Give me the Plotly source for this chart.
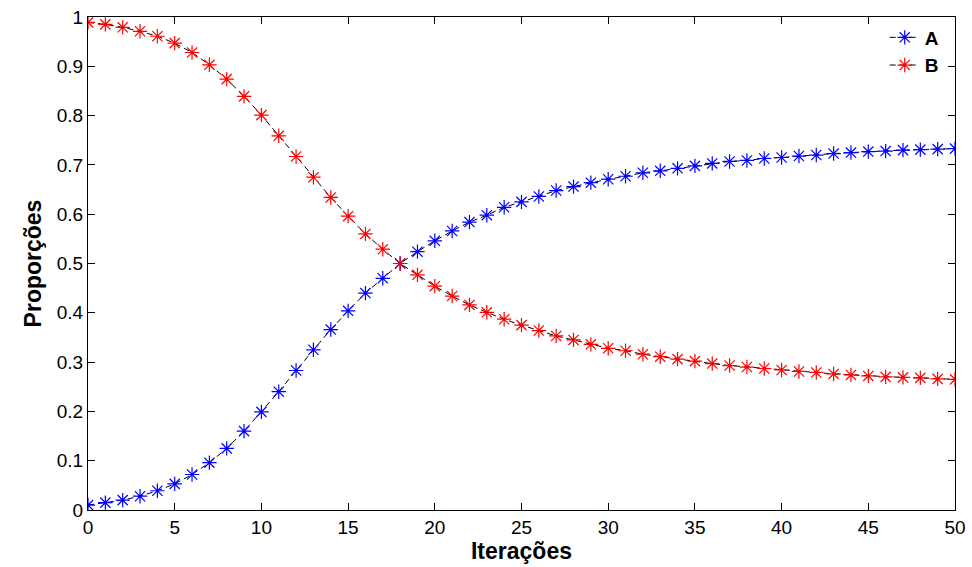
import plotly.graph_objects as go

# Iteration index and proportions of each group
iteracoes = list(range(0, 51))

prop_a = [0.010, 0.015, 0.020, 0.028, 0.039, 0.053, 0.072, 0.096, 0.125, 0.160,
          0.199, 0.240, 0.283, 0.325, 0.366, 0.404, 0.440, 0.470, 0.500, 0.524,
          0.546, 0.566, 0.584, 0.598, 0.614, 0.625, 0.636, 0.648, 0.656, 0.664,
          0.671, 0.677, 0.684, 0.688, 0.693, 0.698, 0.703, 0.707, 0.709, 0.713,
          0.715, 0.718, 0.720, 0.723, 0.725, 0.727, 0.728, 0.730, 0.731, 0.732,
          0.733]

prop_b = [0.989, 0.985, 0.979, 0.971, 0.961, 0.947, 0.928, 0.903, 0.874, 0.839,
          0.801, 0.759, 0.717, 0.675, 0.634, 0.596, 0.560, 0.529, 0.500, 0.477,
          0.454, 0.434, 0.416, 0.401, 0.387, 0.375, 0.364, 0.353, 0.345, 0.336,
          0.328, 0.323, 0.316, 0.311, 0.306, 0.302, 0.297, 0.293, 0.290, 0.287,
          0.284, 0.281, 0.279, 0.276, 0.274, 0.272, 0.270, 0.269, 0.268, 0.266,
          0.265]

series = [("A", prop_a, "rgb(0,0,255)"), ("B", prop_b, "rgb(255,0,0)")]

fig = go.Figure()
for name, vals, col in series:
    fig.add_trace(go.Scatter(
        x=iteracoes, y=vals, name="<b>" + name + "</b>", mode="lines+markers",
        line=dict(color="black", width=1, dash="6px,4px"),
        marker=dict(symbol="asterisk-open", size=12, color=col,
                    line=dict(color=col, width=1.2)),
    ))

font_family = "Liberation Sans, Arial, Helvetica, sans-serif"
axis_common = dict(
    showline=True, linecolor="black", linewidth=1.2, mirror="ticks",
    ticks="inside", ticklen=7, tickcolor="black", tickwidth=1,
    showgrid=False, zeroline=False, automargin=False,
    tickfont=dict(family=font_family, size=19, color="black"),
)

fig.update_layout(
    width=972, height=567,
    margin=dict(l=88, r=17, t=17, b=57),
    plot_bgcolor="white", paper_bgcolor="white",
    font=dict(family=font_family, color="black"),
    xaxis=dict(range=[0, 50], tickvals=list(range(0, 51, 5)),
               title=dict(text="<b>Iterações</b>", font=dict(size=23), standoff=4),
               **axis_common),
    yaxis=dict(range=[0, 1], tickvals=[i / 10 for i in range(11)],
               ticktext=["0", "0.1", "0.2", "0.3", "0.4", "0.5", "0.6", "0.7",
                         "0.8", "0.9", "1"],
               title=dict(text="<b>Proporções</b>", font=dict(size=23), standoff=8),
               **axis_common),
    legend=dict(x=0.987, y=0.997, xanchor="right", yanchor="top",
                bgcolor="rgba(0,0,0,0)", borderwidth=0,
                font=dict(family=font_family, size=19, color="black"),
                itemwidth=30, tracegroupgap=0),
    showlegend=True,
)

fig.write_html("out.html")
